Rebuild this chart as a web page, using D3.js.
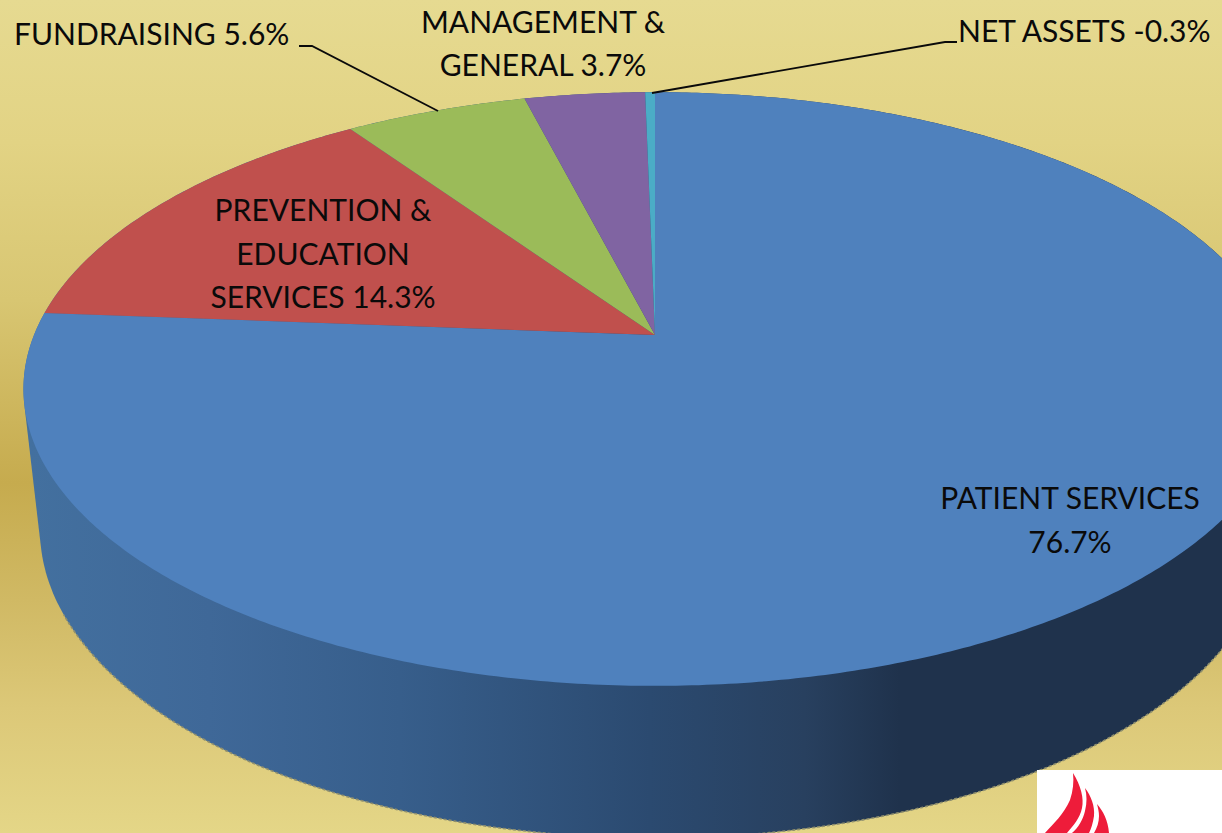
<!DOCTYPE html>
<html>
<head>
<meta charset="utf-8">
<script src="https://cdn.jsdelivr.net/npm/d3@7"></script>
<style>
html, body { margin: 0; padding: 0; background: #e3d586; overflow: hidden; }
svg { display: block; }
text { font-family: Lato, "Open Sans", sans-serif; font-size: 30px; fill: #0a0a0a; }
</style>
</head>
<body>
<div id="pieChart"></div>
<script>
// chart values
var categories = ["PATIENT SERVICES", "PREVENTION & EDUCATION SERVICES", "FUNDRAISING", "MANAGEMENT & GENERAL", "NET ASSETS"];
var shares = [76.7, 14.3, 5.6, 3.7, -0.3];
var sliceColors = ["#4f81bd", "#c0504d", "#9bbb59", "#8064a2", "#4bacc6"];

var width = 1222, height = 833;

var svg = d3.select("#pieChart")
    .append("svg")
    .attr("width", width)
    .attr("height", height);

var defs = svg.append("defs");

// page background
var bg = defs.append("linearGradient").attr("id", "bg")
    .attr("x1", 0).attr("y1", 0).attr("x2", 0).attr("y2", 1);
[[0, "#e6da91"], [0.17, "#e2d384"], [0.36, "#d8c672"], [0.58, "#c6ab4e"], [0.72, "#d0b964"], [0.85, "#dcc878"], [1, "#e4d687"]]
    .forEach(function(s) { bg.append("stop").attr("offset", s[0]).attr("stop-color", s[1]); });

// the wall of the pie darkens left to right
var wall = defs.append("linearGradient").attr("id", "wall")
    .attr("gradientUnits", "userSpaceOnUse")
    .attr("x1", 30).attr("y1", 0).attr("x2", 1222).attr("y2", 0);
[[0, "#43709f"], [0.15, "#3f6898"], [0.31, "#375e8b"], [0.52, "#2b4a70"], [0.65, "#28405f"], [0.73, "#1f324c"], [1, "#1f324c"]]
    .forEach(function(s) { wall.append("stop").attr("offset", s[0]).attr("stop-color", s[1]); });

svg.append("rect").attr("width", width).attr("height", height).attr("fill", "url(#bg)");

// top face: unit circle seen in perspective, apex is the circle centre
var apex = {x: 655, y: 335}, f = 621, g = 287, k = 0.182;
function topRim(a, r) {
    var u = r * Math.sin(a), v = -r * Math.cos(a), w = 1 - k * v;
    return [apex.x + f * u / w, apex.y + g * v / w];
}
// bottom rim of the wall
var base = {x: 655, y: 530, rx: 615, ry: 308};
function baseRim(a) {
    return [base.x + base.rx * Math.sin(a), base.y - base.ry * Math.cos(a)];
}
function arcSteps(a0, a1) {
    var n = Math.max(2, Math.ceil(Math.abs(a1 - a0) / 0.01));
    return d3.range(n + 1).map(function(i) { return a0 + (a1 - a0) * i / n; });
}
var line = d3.line();
var rad = Math.PI / 180;

// wall: hull of both rims, the top face covers the upper part
var rimSteps = arcSteps(0, 2 * Math.PI);
var hull = d3.polygonHull(rimSteps.map(function(a) { return topRim(a, 1); }).concat(rimSteps.map(baseRim)));
svg.append("path")
    .attr("d", line(hull) + "Z")
    .attr("fill", "url(#wall)");

// rough pale edge along the base
svg.append("path")
    .attr("d", line(arcSteps(100 * rad, 254 * rad).map(baseRim)))
    .attr("fill", "none")
    .attr("stroke", "#8f8f6e")
    .attr("stroke-width", 1.6)
    .attr("stroke-dasharray", "3 2");

// slices, sizes from the absolute shares, going clockwise from the top
var color = d3.scaleOrdinal().domain(categories).range(sliceColors);
var pie = d3.pie().sort(null).value(function(d, i) { return Math.abs(shares[i]); });

svg.selectAll(".slice")
    .data(pie(categories))
    .enter()
    .append("path")
    .attr("class", "slice")
    .attr("d", function(d) {
        var pts = arcSteps(d.startAngle, d.endAngle).map(function(a) { return topRim(a, 1); });
        return line([[apex.x, apex.y]].concat(pts)) + "Z";
    })
    .attr("fill", function(d) { return color(d.data); });

// leader lines
var leaders = [
    [[299, 46], [312, 46], [438, 111]],
    [[652, 93], [945, 42], [957, 42]]
];
svg.selectAll(".leader")
    .data(leaders)
    .enter()
    .append("path")
    .attr("class", "leader")
    .attr("d", function(d) { return line(d); })
    .attr("fill", "none")
    .attr("stroke", "#0a0a0a")
    .attr("stroke-width", 1.8);

// labels, one line per baseline
function pct(i) { return shares[i].toFixed(1) + "%"; }
var labels = [
    {x: 1070, y: 509, anchor: "middle", t: categories[0]},
    {x: 1070, y: 553, anchor: "middle", t: pct(0)},
    {x: 958, y: 42, anchor: "start", t: categories[4] + " " + pct(4)},
    {x: 543, y: 33, anchor: "middle", t: "MANAGEMENT &"},
    {x: 543, y: 76, anchor: "middle", t: "GENERAL " + pct(3)},
    {x: 14, y: 45, anchor: "start", t: categories[2] + " " + pct(2)},
    {x: 323, y: 221, anchor: "middle", t: "PREVENTION &"},
    {x: 323, y: 265, anchor: "middle", t: "EDUCATION"},
    {x: 323, y: 308, anchor: "middle", t: "SERVICES " + pct(1)}
];
svg.selectAll(".label")
    .data(labels)
    .enter()
    .append("text")
    .attr("class", "label")
    .attr("x", function(d) { return d.x; })
    .attr("y", function(d) { return d.y; })
    .attr("text-anchor", function(d) { return d.anchor; })
    .text(function(d) { return d.t; });

// cropped logo in the corner
var logo = svg.append("g");
logo.append("rect").attr("x", 1037).attr("y", 770).attr("width", 185).attr("height", 63).attr("fill", "#fff");
[
    "M1073,773 C1081,786 1084,798 1082,808 C1080,818 1073,826 1067,833 L1045,833 C1053,824 1064,814 1070,800 C1073,791 1074,782 1073,773Z",
    "M1085,788 C1091,796 1095,806 1094,816 C1093,823 1091,829 1089,833 L1072,833 C1078,828 1083,820 1085,811 C1087,803 1087,795 1085,788Z",
    "M1097,804 C1103,811 1108,820 1109,833 L1094,833 C1097,828 1099,822 1099,816 C1099,812 1098,808 1097,804Z"
].forEach(function(d) { logo.append("path").attr("d", d).attr("fill", "#ee1c3a"); });
</script>
</body>
</html>
